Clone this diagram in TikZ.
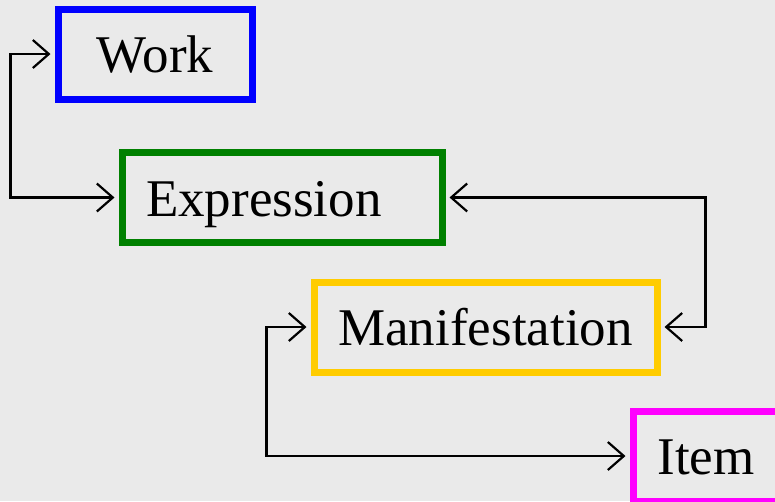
\documentclass[tikz,border=0pt]{standalone}
\usepackage{fontspec}
\setmainfont{Liberation Serif}
\usetikzlibrary{arrows.meta,positioning}

\definecolor{bg}{RGB}{234,234,234}
\definecolor{workblue}{RGB}{0,0,255}
\definecolor{exprgreen}{RGB}{0,128,0}
\definecolor{manifyellow}{RGB}{255,204,0}
\definecolor{itemmagenta}{RGB}{255,0,255}

\begin{document}
\begin{tikzpicture}[x=1pt,y=-1pt]

\fill[bg] (0,0) rectangle (775,501);
\useasboundingbox (0,0) rectangle (775,501);

% set style here
\tikzstyle{entity}=[draw,line width=7pt,minimum height=90pt,
  font=\fontsize{53pt}{60pt}\selectfont,text height=37pt,text depth=0pt]
\tikzstyle{rel}=[line width=2.2pt,
  {Straight Barb[length=16pt,width=28pt]}-{Straight Barb[length=16pt,width=28pt]},
  shorten <=4pt,shorten >=4pt]
%
\node (work) at (155, 54) [entity,draw=workblue,minimum width=194pt]{Work};
\node (expr) at (282, 197.5) [entity,draw=exprgreen,minimum width=320pt,
  text width=272pt,inner xsep=24pt,align=left]{Expression};
\node (manif) at (485.5, 327) [entity,draw=manifyellow,minimum width=343pt]{Manifestation};
\node (item) at (706, 456) [entity,draw=itemmagenta,minimum width=146pt]{Item};

\draw[rel] (work.west) -- ++(-44,0) |- (expr.west);
\draw[rel] (expr.east) -- ++(260,0) |- (manif.east);
\draw[rel] (manif.west) -- ++(-44,0) |- (item.west);

\end{tikzpicture}
\end{document}
